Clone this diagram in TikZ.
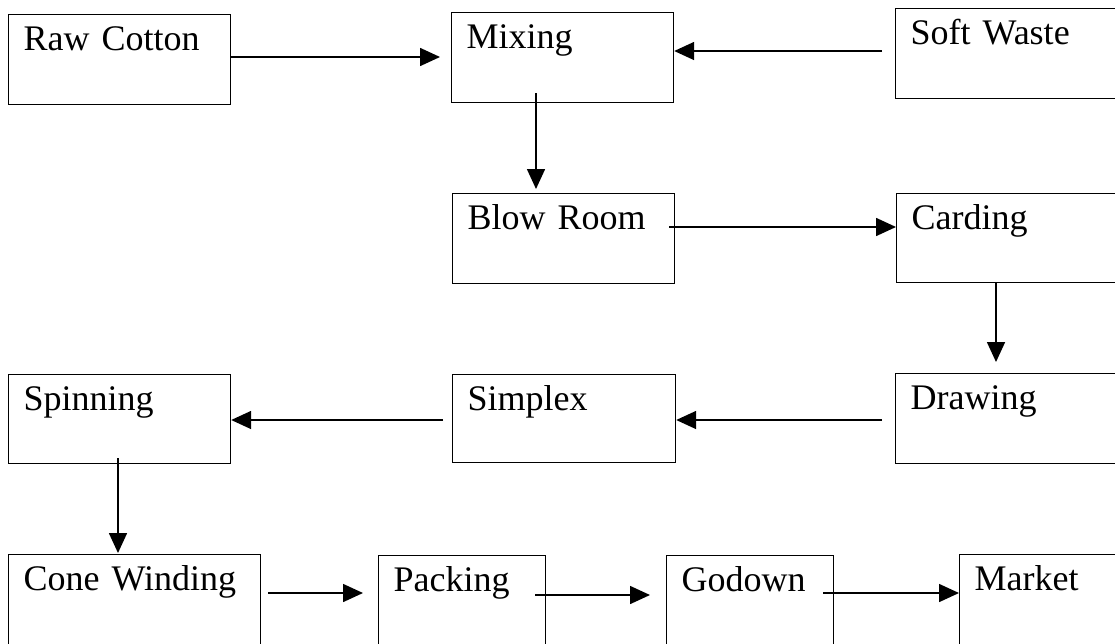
\documentclass[tikz,border=0pt]{standalone}
\usepackage{fontspec}
\setmainfont{Liberation Serif}
\usetikzlibrary{arrows.meta}
\begin{document}
\begin{tikzpicture}[x=1pt,y=-1pt,
  box/.style={draw, line width=1.2pt, anchor=north west, inner xsep=15pt, inner ysep=0pt,
    align=left, text height=36pt, text depth=54pt, font=\fontsize{36}{40}\selectfont},
  arr/.style={line width=1.6pt, -{Triangle[length=20pt,width=18pt]}}]
\useasboundingbox (0,0) rectangle (1115,643);
\clip (0,0) rectangle (1115,643);
% boxes
\node[box, text width=192pt] (raw) at (8,14) {Raw Cotton};
\node[box, text width=192pt] (mix) at (451,12) {Mixing};
\node[box, text width=250pt] (soft) at (895,8) {Soft Waste};
\node[box, text width=192pt] (blow) at (452,193) {Blow Room};
\node[box, text width=250pt, text depth=53pt] (card) at (896,193) {Carding};
\node[box, text width=192pt, text depth=53pt] (spin) at (8,374) {Spinning};
\node[box, text width=193pt, text depth=52pt] (simp) at (452,374) {Simplex};
\node[box, text width=250pt] (drw) at (895,373) {Drawing};
\node[box, text width=222pt, text depth=70pt] (cone) at (8,554) {Cone Winding};
\node[box, text width=137pt, text depth=70pt] (pack) at (378,555) {Packing};
\node[box, text width=137pt, text depth=70pt] (god) at (666,555) {Godown};
\node[box, text width=250pt, text depth=70pt] (mkt) at (959,554) {Market};
% connector end points
\coordinate (e1) at (440,57);
\coordinate (s2) at (882,51);
\coordinate (s3) at (536,93);
\coordinate (e3) at (536,189);
\coordinate (s4) at (669,227);
\coordinate (s5) at (996,283);
\coordinate (e5) at (996,362);
\coordinate (s6) at (882,420);
\coordinate (s7) at (443,420);
\coordinate (s8) at (118,458);
\coordinate (e8) at (118,553);
\coordinate (s9) at (268,593);
\coordinate (e9) at (363,593);
\coordinate (s10) at (535,595);
\coordinate (e10) at (650,595);
\coordinate (s11) at (823,593);
% connectors
\draw[arr] (raw.east |- e1) -- (e1);
\draw[arr] (s2) -- (mix.east |- s2);
\draw[arr] (s3) -- (e3);
\draw[arr] (s4) -- (card.west |- s4);
\draw[arr] (s5) -- (e5);
\draw[arr] (s6) -- (simp.east |- s6);
\draw[arr] (s7) -- (spin.east |- s7);
\draw[arr] (s8) -- (e8);
\draw[arr] (s9) -- (e9);
\draw[arr] (s10) -- (e10);
\draw[arr] (s11) -- (mkt.west |- s11);
\end{tikzpicture}
\end{document}
